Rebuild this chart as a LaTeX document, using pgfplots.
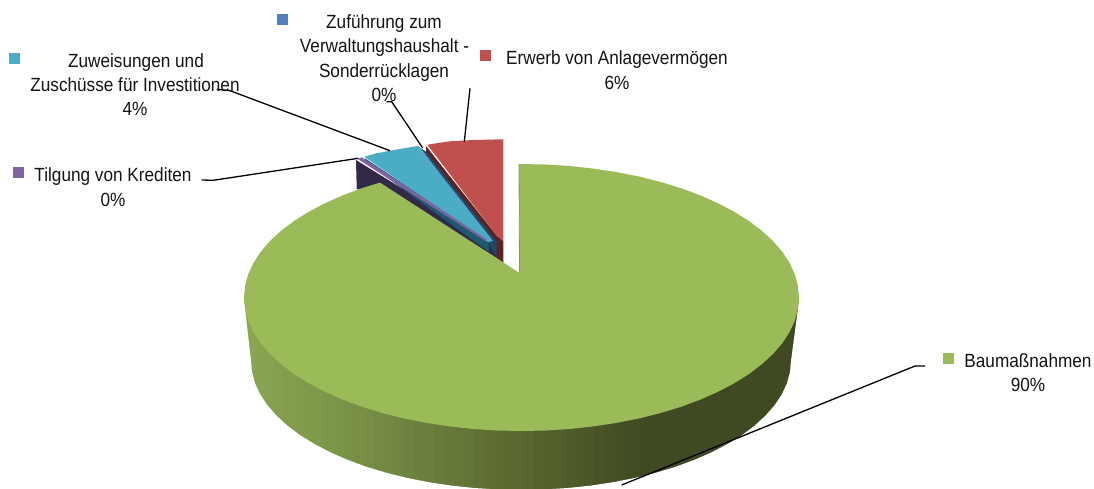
\documentclass[border=0pt]{standalone}
\usepackage{fontspec}
\setmainfont[FakeStretch=0.9]{Liberation Sans}
\usepackage{pgfplots}
\pgfplotsset{compat=1.18}
\definecolor{cgreen}{HTML}{9BBB59}
\definecolor{cred}{HTML}{C0504D}
\definecolor{cteal}{HTML}{4BACC6}
\definecolor{cblue}{HTML}{4F81BD}
\definecolor{cpurple}{HTML}{8064A2}
\definecolor{dred}{HTML}{5A2423}
\definecolor{dblue}{HTML}{1F4968}
\definecolor{dteal}{HTML}{1E5A6E}
\definecolor{dpurple}{HTML}{332A49}
\newcommand{\lab}[3]{\node[anchor=base,font=\fontsize{19.1}{19.1}\selectfont,text=black!92] at (axis cs:#1,#2) {#3};}
\newcommand{\strip}[4]{\addplot[fill={rgb,255:red,#2;green,#3;blue,#4},draw=none] coordinates {(#1,298)(800,298)(800,495)(#1,495)} -- cycle;}
\begin{document}
\begin{tikzpicture}
\path[use as bounding box] (0,0) rectangle (1094pt,489pt);
\begin{axis}[at={(0,0)},anchor=south west,width=1094pt,height=489pt,scale only axis,hide axis,
  xmin=0,xmax=1094,ymin=0,ymax=489,y dir=reverse,clip=true]
% walls of the small slices
\addplot[fill=dred,draw=none] coordinates {(426,146)(497,236)(503.3,241)(503.3,263)(495,257)(426,152)} -- cycle;
\addplot[fill=dblue,draw=none] coordinates {(421,148.3)(426,151.7)(496.7,241.7)(496.7,258)(488.3,252.5)(489,241.7)} -- cycle;
\addplot[fill=dpurple,draw=none] coordinates {(356,160)(487,241)(497,258)(400,200)(356.7,189)} -- cycle;
\addplot[fill=dteal,draw=none] coordinates {(365,158.3)(488.3,240.5)(489,252)(365,161.5)} -- cycle;
% tops of the small slices
\addplot[fill=cred,draw=none] coordinates {(427.3,144.7)(450,141.3)(473,140)(503.3,139.3)(503.3,241)(497,236)} -- cycle;
\addplot[fill=cblue,draw=none] coordinates {(417.5,146)(420,147.5)(493,241)(492,241)} -- cycle;
\addplot[fill=cteal,draw=none] coordinates {(364.3,156.7)(376.7,153.3)(390,150.7)(417.3,146)(492.7,240.7)(488.3,242.3)} -- cycle;
\addplot[fill=cpurple,draw=none] coordinates {(357.7,159)(361.7,157.3)(486.7,239.3)(485,240.7)} -- cycle;
% wall of the large slice: vertical strips, darker to the right
\strip{244}{138}{165}{82}
\strip{254}{136}{163}{81}
\strip{264}{135}{161}{80}
\strip{274}{133}{159}{78}
\strip{284}{132}{157}{77}
\strip{294}{130}{155}{76}
\strip{304}{128}{154}{75}
\strip{314}{127}{152}{74}
\strip{324}{125}{150}{73}
\strip{334}{123}{148}{72}
\strip{344}{122}{146}{71}
\strip{354}{120}{143}{69}
\strip{364}{118}{141}{68}
\strip{374}{116}{138}{66}
\strip{384}{114}{136}{65}
\strip{394}{112}{133}{64}
\strip{404}{110}{131}{63}
\strip{414}{108}{128}{61}
\strip{424}{107}{126}{60}
\strip{434}{105}{123}{58}
\strip{444}{103}{121}{57}
\strip{454}{101}{118}{56}
\strip{464}{99}{116}{55}
\strip{474}{97}{113}{53}
\strip{484}{95}{111}{52}
\strip{494}{93}{108}{50}
\strip{504}{91}{106}{49}
\strip{514}{89}{103}{48}
\strip{524}{87}{101}{47}
\strip{534}{85}{98}{45}
\strip{544}{83}{96}{44}
\strip{554}{81}{94}{43}
\strip{564}{79}{92}{42}
\strip{574}{77}{89}{41}
\strip{584}{75}{87}{40}
\strip{594}{72}{84}{38}
\strip{604}{70}{82}{37}
\strip{614}{68}{79}{36}
\strip{624}{66}{77}{35}
\strip{634}{65}{75}{34}
\strip{644}{64}{74}{34}
% white outside the wall's lower outline
\addplot[fill=white,draw=none] coordinates {(240,297)(244,297.5)(245.1,309.1)(251,361)(252,372.2)(255.1,383.4)(260.2,394.4)(267.3,405.1)(276.3,415.5)(287.2,425.5)(299.8,435)(314.2,443.9)(330.1,452.2)(347.4,459.8)(366.1,466.7)(386,472.7)(406.9,477.9)(428.7,482.2)(451.1,485.6)(474.1,488)(497.5,489.5)(521,490)(544.5,489.5)(567.9,488)(590.9,485.6)(613.3,482.2)(635.1,477.9)(656,472.7)(675.9,466.7)(694.6,459.8)(711.9,452.2)(727.8,443.9)(742.2,435)(754.8,425.5)(765.7,415.5)(774.7,405.1)(781.8,394.4)(786.9,383.4)(790,372.2)(791,361)(797.9,309.1)(799,297.5)(805,297)(805,497)(240,497)} -- cycle;
% top of the large slice
\addplot[fill=cgreen,draw=none] coordinates {
(519.5,273)(380,182.6)(362.3,188.1)(343.1,195.2)(325.3,203.1)(308.9,211.7)(294.2,220.9)(281.2,230.7)(270,241.1)(260.7,251.8)(253.5,262.9)(248.2,274.3)(245.1,285.9)(244,297.5)
(245.1,309.1)(248.2,320.7)(253.5,332.1)(260.7,343.2)(270,353.9)(281.2,364.3)(294.2,374.1)(308.9,383.3)(325.3,391.9)(343.1,399.8)(362.3,406.9)(382.7,413.1)(404.2,418.5)(426.6,422.9)(449.7,426.4)(473.3,429)(497.3,430.5)(521.5,431)
(545.7,430.5)(569.7,429)(593.3,426.4)(616.4,422.9)(638.8,418.5)(660.3,413.1)(680.7,406.9)(699.9,399.8)(717.7,391.9)(734.1,383.3)(748.8,374.1)(761.8,364.3)(773,353.9)(782.3,343.2)(789.5,332.1)(794.8,320.7)(797.9,309.1)(799,297.5)
(797.9,285.9)(794.8,274.3)(789.5,262.9)(782.3,251.8)(773,241.1)(761.8,230.7)(748.8,220.9)(734.1,211.7)(717.7,203.1)(699.9,195.2)(680.7,188.1)(660.3,181.9)(638.8,176.5)(616.4,172.1)(593.3,168.6)(569.7,166)(545.7,164.5)(519,164)} -- cycle;
\addplot[draw=black!45,line width=0.8pt] coordinates {(519,164)(519.5,273)};
% leader lines
\addplot[black,line width=1.3pt] coordinates {(216.7,89.3)(230,90.7)(390,150.7)};
\addplot[black,line width=1.3pt] coordinates {(386.7,101.7)(391.7,101.7)(422.7,148)};
\addplot[black,line width=1.3pt] coordinates {(470,88.3)(464.3,141.7)};
\addplot[black,line width=1.3pt] coordinates {(201.7,180)(213.3,180.3)(358.3,158.3)};
\addplot[black,line width=1.3pt] coordinates {(925,366)(915,366)(621.7,485)};
% legend keys
\addplot[fill=cblue,draw=none] coordinates {(277.3,14)(287.8,14)(287.8,25)(277.3,25)} -- cycle;
\addplot[fill=cteal,draw=none] coordinates {(9,53.3)(20,53.3)(20,64)(9,64)} -- cycle;
\addplot[fill=cpurple,draw=none] coordinates {(13.3,167.3)(24,167.3)(24,178)(13.3,178)} -- cycle;
\addplot[fill=cred,draw=none] coordinates {(480,50)(491,50)(491,61)(480,61)} -- cycle;
\addplot[fill=cgreen,draw=none] coordinates {(943.3,352.7)(954,352.7)(954,364)(943.3,364)} -- cycle;
% labels
\lab{384}{29}{Zuführung zum}
\lab{384.5}{53}{Verwaltungshaushalt -}
\lab{384}{77.5}{Sonderrücklagen}
\lab{384}{102}{0\%}
\lab{136}{67.7}{Zuweisungen und}
\lab{135}{92}{Zuschüsse für Investitionen}
\lab{135}{116}{4\%}
\lab{113}{181.7}{Tilgung von Krediten}
\lab{113}{206}{0\%}
\lab{617}{65}{Erwerb von Anlagevermögen}
\lab{617}{90}{6\%}
\lab{1028}{367}{Baumaßnahmen}
\lab{1028}{391}{90\%}
\end{axis}
\end{tikzpicture}
\end{document}
